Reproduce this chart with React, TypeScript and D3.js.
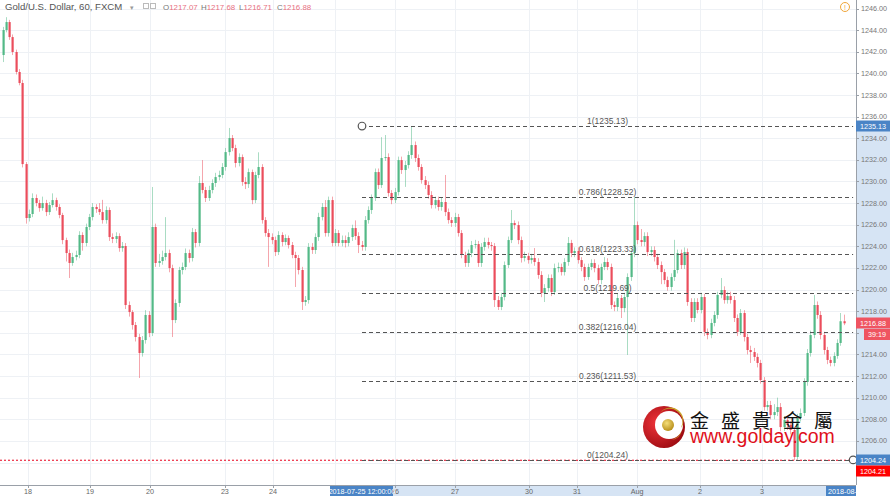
import React from 'react';
import * as d3 from 'd3';

const W = 890;
const H = 496;
const PLOT_R = 856;
const PLOT_B = 485;

const OPEN0 = 1241.7;
const closes = [
  1244.01, 1244.75, 1243.36, 1241.98, 1240.13, 1239.11, 1231.61, 1226.62, 1226.99, 1228.47,
  1228.01, 1227.54, 1228.01, 1227.17, 1227.82, 1228.28, 1227.64, 1226.9, 1224.58, 1223.38,
  1222.46, 1223.01, 1223.2, 1225.05, 1224.31, 1225.79, 1226.71, 1227.64, 1227.45, 1227.17,
  1226.43, 1227.36, 1224.86, 1224.68, 1224.95, 1223.84, 1224.03, 1218.57, 1217.92, 1216.72,
  1215.61, 1214.13, 1215.33, 1217.65, 1215.98, 1225.79, 1222.46, 1222.64, 1223.01, 1223.38,
  1221.99, 1217.18, 1218.76, 1221.81, 1222.09, 1223.38, 1222.92, 1225.32, 1224.31, 1229.86,
  1229.21, 1228.47, 1229.21, 1229.86, 1230.41, 1230.6, 1231.34, 1232.72, 1234.02, 1233.09,
  1231.71, 1232.26, 1229.95, 1229.76, 1230.87, 1228.28, 1230.6, 1231.34, 1226.43, 1225.23,
  1224.86, 1224.58, 1223.47, 1225.05, 1224.4, 1224.77, 1224.12, 1223.2, 1222.92, 1221.81,
  1218.85, 1219.03, 1223.94, 1223.66, 1224.86, 1226.71, 1227.64, 1225.23, 1228.28, 1224.31,
  1225.23, 1224.31, 1224.58, 1224.31, 1224.86, 1225.69, 1224.95, 1224.12, 1223.94, 1226.43,
  1227.36, 1228.47, 1230.87, 1229.67, 1232.17, 1232.26, 1228.93, 1228.28, 1229.02, 1231.98,
  1231.06, 1231.52, 1232.45, 1233.37, 1232.17, 1231.34, 1230.13, 1229.67, 1228.75, 1227.82,
  1228.28, 1227.64, 1228.1, 1227.17, 1226.43, 1226.16, 1226.71, 1225.23, 1223.2, 1222.46,
  1223.38, 1224.12, 1224.21, 1222.46, 1223.94, 1224.4, 1224.12, 1224.03, 1219.03, 1218.39,
  1219.31, 1222.27, 1224.58, 1226.16, 1225.97, 1224.58, 1222.92, 1223.1, 1222.73, 1222.92,
  1222.55, 1221.35, 1219.68, 1220.14, 1221.07, 1219.77, 1221.99, 1222.09, 1221.62, 1222.55,
  1224.31, 1223.38, 1223.57, 1222.73, 1222.09, 1221.16, 1222.09, 1222.46, 1221.99, 1220.88,
  1222.09, 1222.55, 1222.09, 1218.57, 1218.39, 1219.22, 1218.29, 1219.31, 1221.16, 1223.38,
  1225.97, 1224.58, 1224.4, 1224.95, 1223.47, 1223.66, 1223.01, 1222.27, 1221.62, 1220.88,
  1220.24, 1221.16, 1221.81, 1223.38, 1222.27, 1223.47, 1218.85, 1217.37, 1218.85, 1218.11,
  1219.31, 1216.08, 1215.8, 1216.91, 1217.65, 1219.5, 1219.96, 1219.03, 1219.4, 1219.03,
  1217.37, 1216.08, 1217.83, 1215.61, 1214.41, 1214.22, 1213.77, 1213.21, 1211.63, 1209.13,
  1209.32, 1208.39, 1208.67, 1209.13, 1207.28, 1207.93, 1207.47, 1207.01, 1204.51, 1208.12,
  1208.58, 1211.45, 1214.13, 1215.8, 1218.57, 1217.65, 1215.8, 1214.41, 1213.49, 1213.21,
  1213.86, 1215.06, 1217.07, 1216.88,
];
const highs = [
  1244.3, 1245.2, 1244.95, 1243.6, 1242.2, 1240.4, 1239.4, 1231.8, 1227.4, 1228.9,
  1228.8, 1228.3, 1228.6, 1228.3, 1228.1, 1228.9, 1228.5, 1227.9, 1227.1, 1224.8,
  1223.7, 1223.4, 1223.6, 1225.4, 1225.3, 1226.1, 1227.0, 1228.0, 1227.9, 1228.0,
  1228.3, 1227.7, 1227.6, 1225.2, 1225.3, 1225.2, 1224.4, 1224.3, 1218.9, 1218.1,
  1217.0, 1215.9, 1215.7, 1218.1, 1218.0, 1229.49, 1226.1, 1223.3, 1223.6, 1226.7,
  1223.7, 1222.3, 1219.1, 1222.1, 1222.5, 1223.8, 1223.7, 1225.7, 1225.6, 1230.5,
  1231.98, 1229.5, 1229.6, 1230.2, 1230.8, 1231.0, 1231.7, 1233.1, 1234.95, 1234.3,
  1233.4, 1232.6, 1232.5, 1230.4, 1231.2, 1231.1, 1230.9, 1232.7, 1231.6, 1226.7,
  1225.6, 1225.2, 1224.9, 1225.4, 1225.3, 1225.1, 1225.0, 1224.4, 1223.5, 1223.2,
  1222.1, 1219.4, 1224.3, 1224.3, 1225.2, 1227.1, 1228.0, 1228.28, 1228.6, 1228.6,
  1225.6, 1225.5, 1225.0, 1225.0, 1225.3, 1226.0, 1226.4, 1225.3, 1224.5, 1226.8,
  1227.7, 1228.8, 1231.2, 1231.2, 1234.1, 1234.3, 1232.6, 1229.2, 1229.4, 1232.3,
  1232.3, 1231.9, 1232.8, 1235.13, 1233.7, 1232.5, 1231.6, 1230.5, 1230.0, 1229.1,
  1228.6, 1228.6, 1228.5, 1230.6, 1227.5, 1226.7, 1227.1, 1227.0, 1225.5, 1223.5,
  1223.7, 1224.5, 1224.6, 1224.5, 1224.3, 1224.8, 1224.8, 1224.4, 1224.3, 1219.4,
  1219.7, 1222.6, 1224.9, 1227.36, 1226.4, 1226.3, 1224.9, 1223.5, 1223.4, 1223.3,
  1223.84, 1222.9, 1221.7, 1220.5, 1221.4, 1221.4, 1222.4, 1222.5, 1222.4, 1222.9,
  1224.86, 1224.6, 1223.9, 1223.9, 1223.0, 1222.4, 1222.4, 1222.8, 1222.8, 1222.3,
  1222.4, 1223.0, 1222.9, 1222.4, 1218.9, 1219.6, 1219.5, 1219.7, 1221.5, 1223.7,
  1228.56, 1226.3, 1225.6, 1225.3, 1225.3, 1224.0, 1224.0, 1223.3, 1222.6, 1221.9,
  1221.2, 1221.5, 1224.6, 1223.7, 1223.7, 1223.9, 1223.8, 1219.2, 1219.2, 1219.2,
  1219.7, 1219.6, 1216.4, 1217.3, 1218.0, 1219.8, 1221.07, 1220.3, 1219.8, 1219.8,
  1219.4, 1217.7, 1218.2, 1218.1, 1215.9, 1214.8, 1214.6, 1214.1, 1213.5, 1211.9,
  1209.7, 1209.7, 1209.4, 1210.0, 1209.5, 1208.3, 1208.3, 1207.8, 1207.3, 1208.5,
  1209.0, 1211.8, 1214.5, 1216.2, 1219.5, 1218.9, 1218.0, 1216.1, 1214.7, 1213.8,
  1214.2, 1215.4, 1217.83, 1217.68,
];
const lows = [
  1241.05, 1243.8, 1243.1, 1241.7, 1239.9, 1238.9, 1231.3, 1226.1, 1226.3, 1226.7,
  1227.7, 1227.2, 1227.3, 1226.8, 1226.9, 1227.6, 1227.3, 1226.6, 1224.2, 1222.6,
  1221.07, 1222.2, 1222.7, 1222.9, 1223.6, 1224.0, 1225.5, 1226.4, 1227.1, 1226.9,
  1226.1, 1226.1, 1224.5, 1224.3, 1224.3, 1223.5, 1223.5, 1218.2, 1217.5, 1216.3,
  1215.2, 1211.82, 1213.8, 1215.0, 1215.6, 1215.7, 1222.1, 1222.1, 1222.3, 1222.7,
  1221.6, 1215.61, 1216.9, 1218.4, 1221.4, 1221.8, 1222.5, 1222.6, 1223.9, 1224.0,
  1228.9, 1228.1, 1228.2, 1228.9, 1229.5, 1230.1, 1230.3, 1231.0, 1232.4, 1232.8,
  1231.3, 1231.4, 1229.6, 1229.3, 1229.4, 1227.9, 1228.0, 1230.3, 1226.1, 1224.9,
  1222.1, 1224.2, 1223.1, 1223.2, 1224.0, 1224.1, 1223.8, 1222.9, 1220.24, 1221.4,
  1218.11, 1218.5, 1218.7, 1223.3, 1223.3, 1224.5, 1226.4, 1224.9, 1224.9, 1224.0,
  1224.0, 1224.0, 1224.0, 1223.9, 1224.0, 1224.5, 1224.6, 1223.38, 1223.6, 1223.6,
  1226.1, 1227.0, 1228.2, 1229.3, 1229.4, 1231.9, 1228.6, 1227.9, 1228.0, 1228.7,
  1230.7, 1229.5, 1231.2, 1232.1, 1231.8, 1231.0, 1229.8, 1229.3, 1228.4, 1227.5,
  1227.5, 1227.3, 1227.3, 1226.8, 1226.1, 1225.8, 1225.8, 1224.9, 1222.9, 1222.1,
  1222.1, 1223.0, 1223.8, 1222.1, 1222.1, 1223.6, 1223.8, 1223.6, 1218.39, 1218.11,
  1218.1, 1219.0, 1222.0, 1224.3, 1225.6, 1224.2, 1222.5, 1222.6, 1222.4, 1222.4,
  1222.2, 1221.0, 1219.3, 1218.85, 1219.8, 1219.4, 1219.5, 1221.6, 1221.3, 1221.3,
  1222.2, 1223.0, 1223.0, 1222.4, 1221.7, 1220.8, 1220.9, 1221.8, 1221.6, 1220.5,
  1220.5, 1221.8, 1221.8, 1218.2, 1218.0, 1218.0, 1217.37, 1217.9, 1213.95, 1220.8,
  1223.0, 1224.2, 1224.0, 1224.0, 1223.1, 1223.1, 1222.6, 1221.9, 1220.5, 1220.5,
  1219.9, 1219.9, 1220.8, 1221.5, 1221.9, 1221.9, 1218.5, 1217.0, 1217.0, 1217.8,
  1217.8, 1215.7, 1215.4, 1215.5, 1216.6, 1217.3, 1219.2, 1218.7, 1218.7, 1218.7,
  1217.0, 1215.7, 1215.8, 1215.2, 1214.0, 1213.21, 1213.4, 1212.8, 1211.3, 1208.8,
  1208.8, 1208.0, 1208.0, 1208.3, 1206.9, 1206.9, 1207.01, 1206.6, 1204.21, 1204.3,
  1207.8, 1208.3, 1211.1, 1213.8, 1215.5, 1217.3, 1215.4, 1214.0, 1213.1, 1212.9,
  1212.9, 1213.6, 1214.8, 1216.71,
];

const dayLabels = ['18', '19', '20', '23', '24', '25', '26', '27', '30', '31', 'Aug', '2', '3'];
const dayBars = [7.7, 26.3, 44.4, 66.9, 81.4, 100, 118.1, 136.1, 158.4, 172.8, 190.9, 209.8, 228.5];

const priceTicks = [1206, 1208, 1210, 1212, 1214, 1216, 1218, 1220, 1222, 1224, 1226, 1228,
  1230, 1232, 1234, 1236, 1238, 1240, 1242, 1244, 1246];
const gridPrices = [1204, ...priceTicks];

const fibRatios = [1, 0.786, 0.618, 0.5, 0.382, 0.236, 0];
const fibHigh = 1235.13;
const fibLow = 1204.24;
const fibStartBar = 108.15;
const fibEndBar = 255.9;
const lowLinePrice = 1204.21;

const ohlcLabels = ['O', 'H', 'L', 'C'];
const ohlcValues = ['1217.07', '1217.68', '1216.71', '1216.88'];
const currentPrice = 1216.88;
const countdown = '39:19';
const startTimeLabel = '2018-07-25 12:00:00';
const endTimeLabel = '2018-08-0';

const UP = '#53b987';
const DOWN = '#eb4d5c';
const FONT = '"Liberation Sans", Arial, sans-serif';

export default function App() {
  const x = d3.scaleLinear().domain([0, closes.length - 1]).range([2.5, 843.5]);
  const y = d3.scaleLinear().domain([1201.92, 1246.79]).range([PLOT_B, 0]);

  const candles = closes.map((c, i) => {
    const o = i === 0 ? OPEN0 : closes[i - 1];
    return { o, c, h: highs[i], l: lows[i], i };
  });

  const fibLevels = fibRatios.map((r) => ({
    r,
    p: Math.round((fibLow + r * (fibHigh - fibLow)) * 100) / 100,
  }));
  const fx0 = x(fibStartBar);
  const fx1 = x(fibEndBar);
  const fmid = (fx0 + fx1) / 2;
  const boxL = fx0 - 32;
  const boxR = fx0 + 31;

  const cpY = Math.round(y(currentPrice));
  const flY = Math.round(y(fibLow));
  const hiddenTick = (p: number) => {
    const yy = y(p);
    return Math.abs(yy - (cpY + 11)) < 9 || Math.abs(yy - flY) < 12;
  };

  const axisLabel = (p: number, text: string, fill: string, key: string) => {
    const yy = Math.round(y(p));
    return (
      <g key={key}>
        <rect x={PLOT_R} y={yy - 5.5} width={W - PLOT_R} height={11} fill={fill} />
        <text x={PLOT_R + 4} y={yy + 2.8} fontSize={7.2} fill="#fff" fontFamily={FONT}>{text}</text>
      </g>
    );
  };

  return (
    <svg width={W} height={H} viewBox={`0 0 ${W} ${H}`}
      style={{ position: 'absolute', left: 0, top: 0, background: '#fff' }}>
      <rect x={0} y={0} width={W} height={H} fill="#fff" />
      {/* grid */}
      <g>
        {gridPrices.map((p) => (
          <line key={'h' + p} x1={0} x2={PLOT_R} y1={Math.round(y(p)) + 0.5} y2={Math.round(y(p)) + 0.5}
            stroke="#eef1f5" strokeWidth={1} />
        ))}
        {dayBars.map((b, k) => (
          <line key={'v' + k} x1={Math.round(x(b)) + 0.5} x2={Math.round(x(b)) + 0.5} y1={0} y2={PLOT_B}
            stroke="#eef1f5" strokeWidth={1} />
        ))}
      </g>

      {/* candles */}
      <g>
        {candles.map((d) => {
          const cx = Math.round(x(d.i));
          const col = d.c >= d.o ? UP : DOWN;
          const top = y(Math.max(d.o, d.c));
          const bot = y(Math.min(d.o, d.c));
          return (
            <g key={d.i}>
              <line x1={cx + 0.5} x2={cx + 0.5} y1={y(d.h)} y2={y(d.l)} stroke={col} strokeOpacity={0.5} strokeWidth={1} />
              <rect x={cx - 0.5} y={top} width={2.2} height={Math.max(1, bot - top)} fill={col} />
            </g>
          );
        })}
      </g>

      {/* low line */}
      <line x1={0} x2={PLOT_R} y1={y(lowLinePrice)} y2={y(lowLinePrice)} stroke="#e8001c" strokeWidth={1} strokeDasharray="2,2" />

      {/* fib */}
      <g>
        {fibLevels.map((f) => (
          <g key={f.r}>
            <line x1={fx0} x2={fx1} y1={Math.round(y(f.p)) + 0.5} y2={Math.round(y(f.p)) + 0.5}
              stroke="#555" strokeWidth={1} strokeDasharray="4,3" />
            <text x={fmid} y={Math.round(y(f.p)) - 2} textAnchor="middle" fontSize={8.5} fill="#555" fontFamily={FONT}>
              {`${f.r}(${f.p.toFixed(2)})`}
            </text>
          </g>
        ))}
        <circle cx={fx0} cy={y(fibHigh)} r={3.8} fill="#fff" stroke="#555" strokeWidth={1.2} />
        <circle cx={fx1} cy={y(fibLow)} r={3.8} fill="#fff" stroke="#555" strokeWidth={1.2} />
      </g>

      {/* logo */}
      <g>
        <defs>
          <radialGradient id="redg" cx="35%" cy="40%" r="70%">
            <stop offset="0%" stopColor="#f0343a" />
            <stop offset="100%" stopColor="#9a0a10" />
          </radialGradient>
          <radialGradient id="goldg" cx="40%" cy="35%" r="70%">
            <stop offset="0%" stopColor="#f4de7a" />
            <stop offset="100%" stopColor="#b48a14" />
          </radialGradient>
        </defs>
        <circle cx={664} cy={427} r={21} fill="url(#redg)" />
        <circle cx={669} cy={425} r={14} fill="#fff" />
        <path d="M 660 413 A 13 13 0 0 1 681 428 A 11 11 0 0 0 660 413 Z" fill="#c9a227" />
        <path d="M 672 440 A 13 13 0 0 0 682 430 A 16 16 0 0 1 672 440 Z" fill="#c9a227" />
        <circle cx={668} cy={425} r={6} fill="url(#goldg)" />
        <text x={690} y={428} fontSize={19} fill="#111" letterSpacing={12}
          fontFamily='"Noto Sans CJK TC", "Noto Sans CJK SC", sans-serif'>金盛貴金屬</text>
        <text x={690} y={443} fontSize={19.5} fill="#e0101b" fontFamily={FONT}>www.golday.com</text>
      </g>

      {/* header */}
      <g fontFamily={FONT}>
        <text x={5} y={10} fontSize={9.6} fill="#555">Gold/U.S. Dollar, 60, FXCM</text>
        <text x={130} y={10} fontSize={7} fill="#999">▾</text>
        <rect x={143.5} y={3.5} width={5} height={5} fill="none" stroke="#bbb" />
        <rect x={150.5} y={3.5} width={5} height={5} fill="none" stroke="#bbb" />
        {ohlcLabels.map((l, k) => (
          <text key={l} x={163 + k * 38} y={10} fontSize={7.9}>
            <tspan fill="#777">{l}</tspan>
            <tspan fill="#e8707f">{ohlcValues[k]}</tspan>
          </text>
        ))}
        <circle cx={845} cy={7} r={4.5} fill="#fff" stroke="#f0a63a" strokeWidth={1} />
        <text x={845} y={9.5} fontSize={7} textAnchor="middle" fill="#f0a63a">!</text>
      </g>

      {/* price axis */}
      <g fontFamily={FONT}>
        <rect x={PLOT_R} y={0} width={W - PLOT_R} height={H} fill="#fff" />
        <rect x={PLOT_R} y={y(fibHigh)} width={W - PLOT_R} height={y(fibLow) - y(fibHigh)} fill="#d6e4f4" />
        <line x1={PLOT_R + 0.5} x2={PLOT_R + 0.5} y1={0} y2={PLOT_B} stroke="#9aa0a8" strokeWidth={1} />
        {priceTicks.map((p) => (
          <g key={'t' + p}>
            <line x1={PLOT_R} x2={PLOT_R + 3} y1={Math.round(y(p)) + 0.5} y2={Math.round(y(p)) + 0.5} stroke="#9aa0a8" />
            {!hiddenTick(p) && (
              <text x={PLOT_R + 5} y={y(p) + 2.5} fontSize={7.2} fill="#777">{p.toFixed(2)}</text>
            )}
          </g>
        ))}
        {axisLabel(fibHigh, fibHigh.toFixed(2), '#4a84c6', 'fh')}
        {axisLabel(currentPrice, currentPrice.toFixed(2), '#ef5461', 'cp')}
        <rect x={PLOT_R + 8} y={cpY + 6} width={W - PLOT_R - 8} height={11} fill="#ef5461" />
        <text x={PLOT_R + 12} y={cpY + 14.3} fontSize={7.2} fill="#fff">{countdown}</text>
        {axisLabel(fibLow, fibLow.toFixed(2), '#4a84c6', 'fl')}
        <rect x={PLOT_R} y={flY + 5.5} width={W - PLOT_R} height={11} fill="#f00" />
        <text x={PLOT_R + 4} y={flY + 14} fontSize={7.2} fill="#fff">{lowLinePrice.toFixed(2)}</text>
      </g>

      {/* time axis */}
      <g fontFamily={FONT}>
        <rect x={0} y={PLOT_B} width={PLOT_R} height={H - PLOT_B} fill="#fff" />
        <rect x={fx0} y={PLOT_B} width={PLOT_R - fx0} height={H - PLOT_B} fill="#d6e4f4" />
        <line x1={0} x2={PLOT_R} y1={PLOT_B + 0.5} y2={PLOT_B + 0.5} stroke="#9aa0a8" />
        <defs>
          <clipPath id="afterBox">
            <rect x={boxR} y={PLOT_B} width={PLOT_R - boxR} height={H - PLOT_B} />
          </clipPath>
        </defs>
        {dayBars.map((b, k) => {
          const xx = x(b);
          const covered = xx > boxL - 6 && xx < boxR;
          const partial = covered && xx > boxR - 8;
          return (
            <g key={'d' + k}>
              <line x1={Math.round(xx) + 0.5} x2={Math.round(xx) + 0.5} y1={PLOT_B} y2={PLOT_B + 3} stroke="#9aa0a8" />
              {!covered && (
                <text x={xx} y={494} fontSize={7.2} textAnchor="middle" fill="#666">{dayLabels[k]}</text>
              )}
              {partial && (
                <text x={xx} y={494} fontSize={7.2} textAnchor="middle" fill="#666" clipPath="url(#afterBox)">{dayLabels[k]}</text>
              )}
            </g>
          );
        })}
        <rect x={boxL} y={PLOT_B + 1} width={boxR - boxL} height={H - PLOT_B - 1} fill="#4a84c6" />
        <text x={fx0} y={494} fontSize={7.2} textAnchor="middle" fill="#fff">{startTimeLabel}</text>
        <rect x={826} y={PLOT_B + 1} width={PLOT_R - 826} height={H - PLOT_B - 1} fill="#4a84c6" />
        <text x={828} y={494} fontSize={7.2} fill="#fff">{endTimeLabel}</text>
        <rect x={PLOT_R} y={PLOT_B + 1} width={W - PLOT_R} height={H - PLOT_B} fill="#fff" />
      </g>
    </svg>
  );
}
